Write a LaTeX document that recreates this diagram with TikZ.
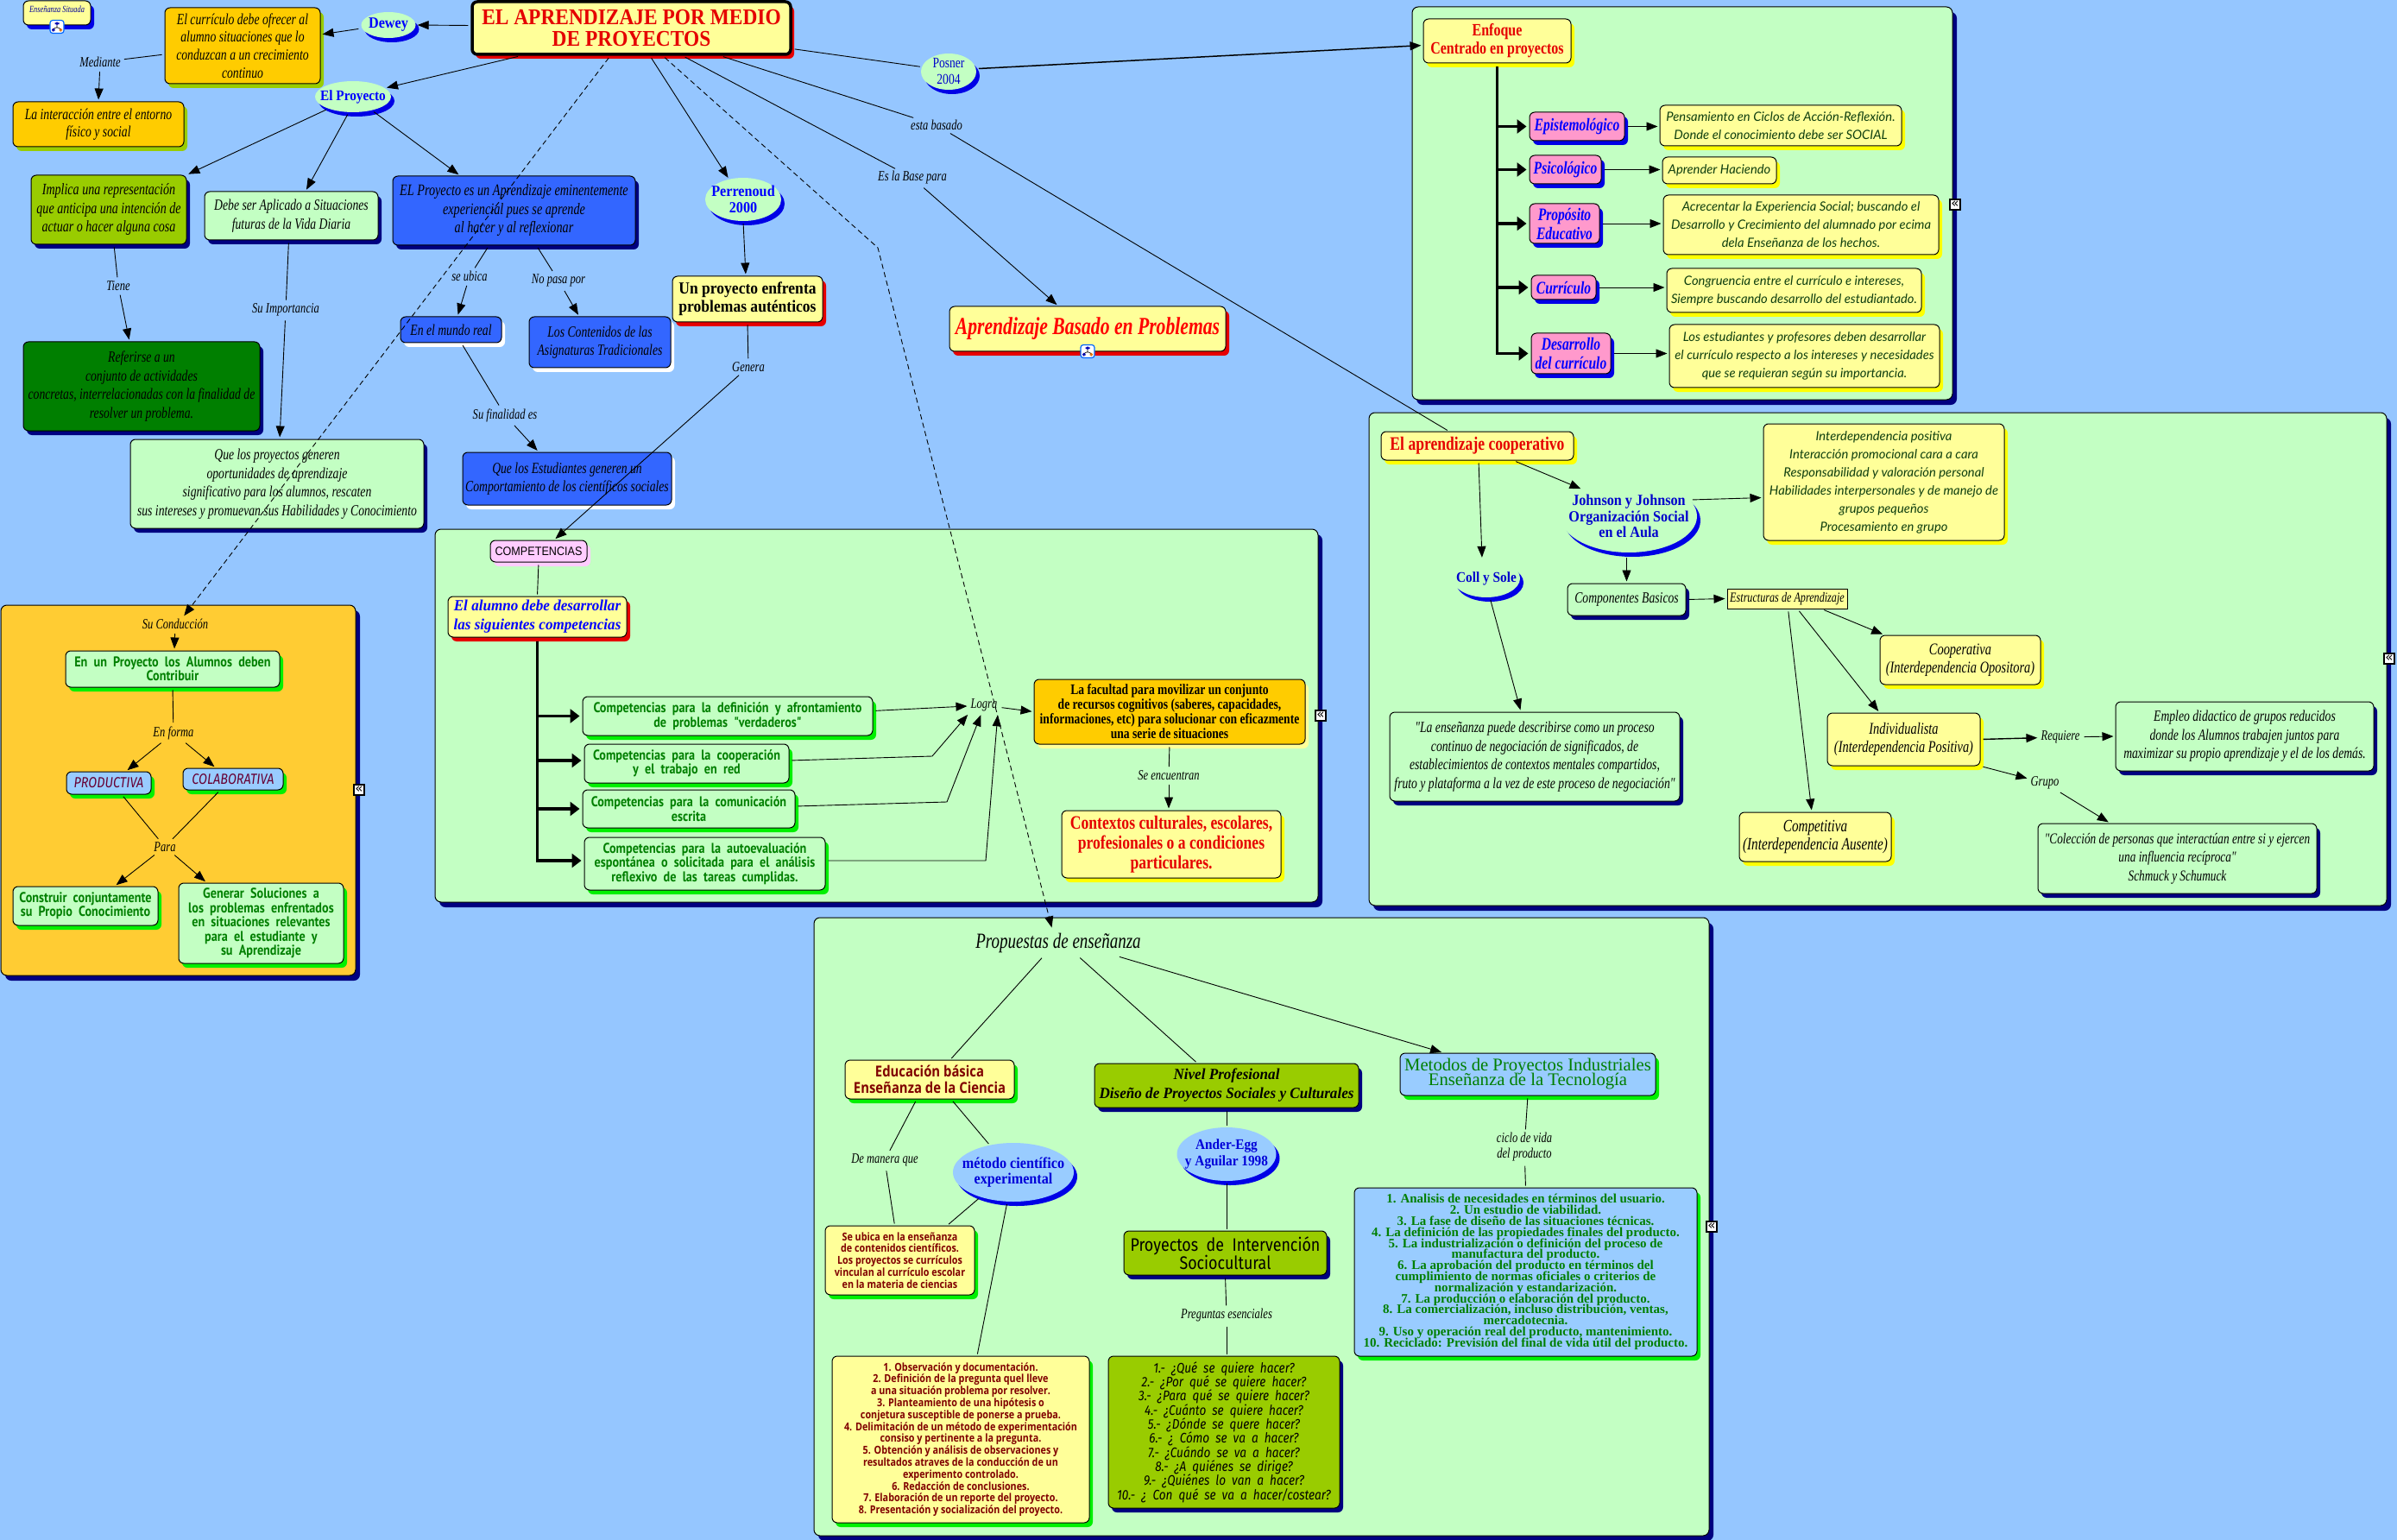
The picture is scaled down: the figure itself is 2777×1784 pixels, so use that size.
\documentclass[tikz,border=0pt]{standalone}
\usepackage{fontspec}
\usepackage{tikz}
\usetikzlibrary{arrows.meta,shapes.geometric,shadows}

\lineskiplimit=-20pt
\newfontfamily\handfont[FakeStretch=.76]{Liberation Serif}
\newfontfamily\widefont[FakeStretch=.95]{Liberation Serif}
\newfontfamily\narrowfont[FakeStretch=.8]{Liberation Serif}
\newfontfamily\ovalfont[FakeStretch=.9]{Liberation Serif}
\newfontfamily\titlefont{Liberation Serif}
\newfontfamily\greenfont[FakeStretch=.86,WordSpace=2]{PT Sans}
\newfontfamily\listfont[FakeStretch=.85,WordSpace=2]{Fira Sans}
\newfontfamily\plainfont[FakeStretch=.85]{Open Sans}
\newfontfamily\capsfont[FakeStretch=.9]{Liberation Sans}
\newfontfamily\kristenfont{Lato}
\newfontfamily\glyphfont{DejaVu Sans}

\definecolor{bgblue}{HTML}{95C6FF}
\definecolor{fillgreen}{HTML}{C3FFC3}
\definecolor{fillyellow}{HTML}{FFFF99}
\definecolor{fillorange}{HTML}{FFCC00}
\definecolor{panelorange}{HTML}{FFCC33}
\definecolor{fillblue}{HTML}{3366FF}
\definecolor{fillsky}{HTML}{99CCFF}
\definecolor{fillolive}{HTML}{99CC00}
\definecolor{filldark}{HTML}{007F00}
\definecolor{fillpink}{HTML}{FF99CC}
\definecolor{filllilac}{HTML}{FFCCFF}
\definecolor{shnavy}{HTML}{000080}
\definecolor{shblue}{HTML}{0000E6}
\definecolor{shred}{HTML}{E60000}
\definecolor{shyellow}{HTML}{FFFF00}
\definecolor{shgreen}{HTML}{00F000}
\definecolor{txgreen}{HTML}{007F00}
\definecolor{txmaroon}{HTML}{800000}
\definecolor{txplum}{HTML}{660033}
\definecolor{txdark}{HTML}{0F3F0F}

\tikzset{
  >={Triangle[length=13pt,width=10pt]},
  cbox/.style 2 args={draw=black,line width=1pt,rounded corners=6pt,align=center,inner sep=0pt,
    fill=#1,copy shadow={fill=#2,draw=none,shadow xshift=4pt,shadow yshift=-5pt}},
  panel/.style={draw=black,line width=1pt,rounded corners=7pt,fill=#1,
    copy shadow={fill=shnavy,draw=none,shadow xshift=5pt,shadow yshift=-6pt}},
  oval/.style 2 args={ellipse,inner sep=-20pt,align=center,fill=#1,
    copy shadow={fill=#2,draw=none,shadow xshift=4pt,shadow yshift=-5pt}},
  txhand/.style 2 args={font=\handfont\itshape\fontsize{#1}{#2}\selectfont},
  txhandb/.style 2 args={font=\handfont\bfseries\itshape\fontsize{#1}{#2}\selectfont},
  txwideb/.style 2 args={font=\widefont\bfseries\itshape\fontsize{#1}{#2}\selectfont},
  txkrist/.style={font=\kristenfont\itshape\fontsize{14.8}{21}\selectfont,text=txdark},
  txserif/.style 2 args={font=\narrowfont\bfseries\fontsize{#1}{#2}\selectfont},
  txoval/.style 2 args={font=\ovalfont\bfseries\fontsize{#1}{#2}\selectfont},
  txgreen/.style={font=\greenfont\bfseries\fontsize{16.5}{16.5}\selectfont,text=txgreen},
  txplain/.style 2 args={font=\plainfont\bfseries\fontsize{#1}{#2}\selectfont,text=txmaroon},
  txlist/.style 2 args={font=\listfont\fontsize{#1}{#2}\selectfont},
  lab/.style={txhand={16.5}{18},inner sep=2pt},
  link/.style={line width=.9pt,shorten <=3pt,shorten >=2pt},
  dashlink/.style={link,dashed,dash pattern=on 6pt off 4pt},
  trunk/.style={line width=3.6pt,shorten <=4pt,shorten >=3pt,>={Triangle[length=11pt,width=16pt]}},
  marker/.style={draw=black,fill=white,line width=1.2pt,inner sep=0pt,minimum size=12pt,
    font=\glyphfont\fontsize{15}{15}\selectfont},
  mapicon/.style={draw=blue!60!cyan,line width=1.2pt,fill=white,rounded corners=3pt,minimum width=16pt,minimum height=15pt,
    path picture={\draw[black,line width=.6pt] (path picture bounding box.center) ++(0,-2) -- ++(0,3) ++(-4,1.5) -- ++(0,-1.5) -- ++(8,0) -- ++(0,1.5);
      \fill[blue!70!black] (path picture bounding box.center) ++(-2.5,-5.5) rectangle ++(5,3.5);
      \fill[blue!70!black] (path picture bounding box.center) ++(-6,2) rectangle ++(3.5,3.5);
      \fill[orange!90!black] (path picture bounding box.center) ++(2.5,2) rectangle ++(3.5,3.5);}},
}

\begin{document}
\begin{tikzpicture}[x=1pt,y=-1pt]
  \useasboundingbox (0,0) rectangle (2777,1784);
  \fill[bgblue] (0,0) rectangle (2777,1784);

  % panels
  \node[panel=fillgreen,minimum width=626pt,minimum height=455pt] (panelenfoque) at (1949,235.5) {};
  \node[panel=fillgreen,minimum width=1023pt,minimum height=432pt] (panelcomp) at (1015.5,829) {};
  \node[panel=panelorange,minimum width=411pt,minimum height=429pt] (panelcond) at (206.5,915.5) {};
  \node[panel=fillgreen,minimum width=1179pt,minimum height=571pt] (panelcoop) at (2175.5,763.5) {};
  \node[panel=fillgreen,minimum width=1037pt,minimum height=716pt] (panelprop) at (1461.5,1421) {};

  % top left
  \node[cbox={fillyellow}{shblue},txhand={11}{12},text=blue!60!black,minimum width=78pt,minimum height=28pt,text depth=8pt] (situada) at (66,15) {Enseñanza Situada};
  \node[cbox={fillyellow}{shred},line width=3.5pt,font=\ovalfont\bfseries\fontsize{26}{25.5}\selectfont,text=red!90!black,minimum width=369pt,minimum height=61pt] (title) at (731.5,32.5) {EL APRENDIZAJE POR MEDIO\\DE PROYECTOS};
  \node[oval={fillgreen}{shblue},txoval={18}{21},text=blue,minimum width=63pt,minimum height=30pt] (dewey) at (450,29) {Dewey};
  \node[cbox={fillorange}{fillolive},txhand={18}{20.6},minimum width=180pt,minimum height=88pt] (curriculo) at (281,53) {El currículo debe ofrecer al\\alumno situaciones que lo\\conduzcan a un crecimiento\\continuo};
  \node[cbox={fillorange}{fillolive},txhand={18}{20.6},minimum width=198pt,minimum height=52pt] (interaccion) at (114,144) {La interacción entre el entorno\\físico y social};
  \node[oval={fillgreen}{shblue},txoval={17}{19},text=blue,minimum width=88pt,minimum height=36pt] (elproyecto) at (409,112) {El Proyecto};
  \node[cbox={fillolive}{shnavy},txhand={18.5}{21.5},minimum width=180pt,minimum height=80pt] (implica) at (126,243) {Implica una representación\\que anticipa una intención de\\actuar o hacer alguna cosa};
  \node[cbox={fillgreen}{shnavy},txhand={18}{21.5},minimum width=201pt,minimum height=56pt] (debeser) at (337.5,250) {Debe ser Aplicado a Situaciones\\futuras de la Vida Diaria};
  \node[cbox={fillblue}{shnavy},txhand={18.7}{21.5},minimum width=281pt,minimum height=80pt] (aprendexp) at (595.5,244) {EL Proyecto es un Aprendizaje eminentemente\\experiencial pues se aprende\\al hacer y al reflexionar};
  \node[cbox={fillblue}{white},txhand={18}{21.5},minimum width=117pt,minimum height=30pt] (mundo) at (522.5,382) {En el mundo real};
  \node[cbox={fillblue}{white},txhand={18}{21.5},minimum width=164pt,minimum height=59pt] (contenidos) at (695,396.5) {Los Contenidos de las\\Asignaturas Tradicionales};
  \node[cbox={filldark}{shnavy},txhand={18}{21.5},minimum width=274pt,minimum height=103pt] (referirse) at (164,447.5) {Referirse a un\\conjunto de actividades\\concretas, interrelacionadas con la finalidad de\\resolver un problema.};
  \node[cbox={fillgreen}{shnavy},txhand={18}{21.5},minimum width=340pt,minimum height=103pt] (quelos) at (321,560.5) {Que los proyectos generen\\oportunidades de aprendizaje\\significativo para los alumnos, rescaten\\sus intereses y promuevan sus Habilidades y Conocimiento};
  \node[cbox={fillblue}{white},txhand={18}{21.5},minimum width=242pt,minimum height=61pt] (estudiantes) at (657,554.5) {Que los Estudiantes generen un\\Comportamiento de los científicos sociales};
  \node[oval={fillgreen}{shblue},txoval={18}{19},text=blue,minimum width=88pt,minimum height=50pt] (perrenoud) at (861,231) {Perrenoud\\2000};
  \node[cbox={fillyellow}{shred},txoval={19.5}{20.6},minimum width=174pt,minimum height=53pt] (unproyecto) at (866,346.5) {Un proyecto enfrenta\\problemas auténticos};
  \node[cbox={fillyellow}{shred},font=\handfont\itshape\bfseries\fontsize{28.5}{30}\selectfont,text=red,minimum width=320pt,minimum height=52pt] (aprendizaje) at (1260,381) {Aprendizaje Basado en Problemas};
  \node[oval={fillgreen}{shblue},font=\narrowfont\fontsize{17}{19}\selectfont,text=blue!80!black,minimum width=64pt,minimum height=42pt] (posner) at (1099,83) {Posner\\2004};

  % enfoque panel
  \node[cbox={fillyellow}{shyellow},txserif={20}{21},text=red!90!black,minimum width=171pt,minimum height=51pt] (enfoque) at (1734.5,47.5) {Enfoque\\Centrado en proyectos};
  \node[cbox={fillpink}{shblue},txhandb={20.5}{22},text=blue,minimum width=110pt,minimum height=33pt] (epist) at (1827,146.5) {Epistemológico};
  \node[cbox={fillpink}{shblue},txhandb={20.5}{22},text=blue,minimum width=83pt,minimum height=33pt] (psico) at (1813.5,196.5) {Psicológico};
  \node[cbox={fillpink}{shblue},txhandb={20.5}{22},text=blue,minimum width=81pt,minimum height=46pt] (proposito) at (1812.5,259) {Propósito\\Educativo};
  \node[cbox={fillpink}{shblue},txhandb={20.5}{22},text=blue,minimum width=75pt,minimum height=28pt] (curric) at (1811.5,333) {Currículo};
  \node[cbox={fillpink}{shblue},txhandb={20.5}{22},text=blue,minimum width=92pt,minimum height=47pt] (desarrollo) at (1820,409.5) {Desarrollo\\del currículo};
  \node[cbox={fillyellow}{shyellow},txkrist,minimum width=280pt,minimum height=47pt] (pensamiento) at (2063,145.5) {Pensamiento en Ciclos de Acción-Reflexión.\\Donde el conocimiento debe ser SOCIAL};
  \node[cbox={fillyellow}{shyellow},txkrist,minimum width=132pt,minimum height=31pt] (haciendo) at (1992,197.5) {Aprender Haciendo};
  \node[cbox={fillyellow}{shyellow},txkrist,minimum width=319pt,minimum height=69pt] (acrecentar) at (2086.5,260.5) {Acrecentar la Experiencia Social; buscando el\\Desarrollo y Crecimiento del alumnado por ecima\\dela Enseñanza de los hechos.};
  \node[cbox={fillyellow}{shyellow},txkrist,minimum width=295pt,minimum height=51pt] (congruencia) at (2078.5,336.5) {Congruencia entre el currículo e intereses,\\Siempre buscando desarrollo del estudiantado.};
  \node[cbox={fillyellow}{shyellow},txkrist,minimum width=313pt,minimum height=73pt] (profesores) at (2090.5,412.5) {Los estudiantes y profesores deben desarrollar\\el currículo respecto a los intereses y necesidades\\que se requieran según su importancia.};

  % competencias panel
  \node[cbox={filllilac}{filllilac},font=\capsfont\fontsize{14}{16}\selectfont,minimum width=112pt,minimum height=25pt] (competencias) at (624,638.5) {COMPETENCIAS};
  \node[cbox={fillyellow}{shred},txwideb={18}{22},text=blue,minimum width=207pt,minimum height=47pt] (alumno) at (622.5,714.5) {El alumno debe desarrollar\\las siguientes competencias};
  \node[cbox={fillgreen}{shgreen},txgreen,minimum width=336pt,minimum height=45pt] (compdef) at (843,829.5) {Competencias para la definición y afrontamiento\\de problemas "verdaderos"};
  \node[cbox={fillgreen}{shgreen},txgreen,minimum width=237pt,minimum height=45pt] (compcoop) at (795.5,884.5) {Competencias para la cooperación\\y el trabajo en red};
  \node[cbox={fillgreen}{shgreen},txgreen,minimum width=246pt,minimum height=44pt] (compcom) at (798,937) {Competencias para la comunicación\\escrita};
  \node[cbox={fillgreen}{shgreen},txgreen,minimum width=279pt,minimum height=61pt] (compauto) at (816.5,1000.5) {Competencias para la autoevaluación\\espontánea o solicitada para el análisis\\reflexivo de las tareas cumplidas.};
  \node[cbox={fillorange}{fillyellow},txserif={17}{17},minimum width=314pt,minimum height=75pt] (facultad) at (1355,824.5) {La  facultad para movilizar un conjunto\\de recursos cognitivos (saberes, capacidades,\\informaciones, etc) para solucionar con eficazmente\\una serie de situaciones};
  \node[cbox={fillyellow}{shyellow},txserif={22}{23},text=red!90!black,minimum width=254pt,minimum height=78pt] (contextos) at (1357,978) {Contextos culturales, escolares,\\profesionales o a condiciones\\particulares.};

  % conduccion panel
  \node[cbox={fillgreen}{shgreen},txgreen,minimum width=248pt,minimum height=42pt] (enun) at (200,775) {En un Proyecto los Alumnos deben\\Contribuir};
  \node[cbox={fillsky}{shgreen},font=\listfont\itshape\fontsize{17}{18}\selectfont,text=txplum,minimum width=98pt,minimum height=26pt] (productiva) at (126,907) {PRODUCTIVA};
  \node[cbox={fillsky}{shgreen},font=\listfont\itshape\fontsize{17}{18}\selectfont,text=txplum,minimum width=116pt,minimum height=25pt] (colaborativa) at (270,902.5) {COLABORATIVA};
  \node[cbox={fillgreen}{shgreen},txgreen,minimum width=168pt,minimum height=45pt] (construir) at (99,1049.5) {Construir conjuntamente\\su Propio Conocimiento};
  \node[cbox={fillgreen}{shgreen},txgreen,minimum width=191pt,minimum height=93pt] (generar) at (302.5,1069.5) {Generar Soluciones a\\los problemas enfrentados\\en situaciones relevantes\\para el estudiante y\\su Aprendizaje};

  % cooperativo panel
  \node[cbox={fillyellow}{shyellow},txserif={22}{24},text=red!90!black,minimum width=223pt,minimum height=33pt] (aprendcoop) at (1711.5,516.5) {El aprendizaje cooperativo};
  \node[oval={fillgreen}{shblue},txoval={18}{18.5},text=blue!80!black,minimum width=158pt,minimum height=84pt] (johnson) at (1887,598) {Johnson y Johnson\\Organización Social\\en el Aula};
  \node[oval={fillgreen}{shblue},txoval={17}{18},text=blue!80!black,minimum width=78pt,minimum height=44pt] (collsole) at (1722,670) {Coll y Sole};
  \node[cbox={fillyellow}{shyellow},txkrist,minimum width=279pt,minimum height=135pt] (interdep) at (2182.5,558.5) {Interdependencia positiva\\Interacción promocional cara a cara\\Responsabilidad y valoración personal\\Habilidades interpersonales y de manejo de\\grupos pequeños\\Procesamiento en grupo};
  \node[cbox={fillgreen}{shnavy},txhand={18}{21},minimum width=137pt,minimum height=37pt] (componentes) at (1884.5,694.5) {Componentes Basicos};
  \node[draw=black,line width=1pt,fill=fillyellow,inner sep=0pt,txhand={16}{18},minimum width=139pt,minimum height=23pt] (estructuras) at (2070.5,693.5) {Estructuras de Aprendizaje};
  \node[cbox={fillyellow}{shyellow},txhand={19}{21.5},minimum width=186pt,minimum height=57pt] (cooperativa) at (2271,764.5) {Cooperativa\\(Interdependencia Opositora)};
  \node[cbox={fillyellow}{shyellow},txhand={19}{21.5},minimum width=177pt,minimum height=61pt] (individual) at (2205.5,856.5) {Individualista\\(Interdependencia Positiva)};
  \node[cbox={fillyellow}{shyellow},txhand={20}{21.5},minimum width=176pt,minimum height=57pt] (competitiva) at (2103,969.5) {Competitiva\\(Interdependencia Ausente)};
  \node[cbox={fillgreen}{shnavy},txhand={18}{21.5},minimum width=336pt,minimum height=103pt] (ensenanza) at (1778,876.5) {"La enseñanza puede describirse como un proceso\\continuo de negociación de significados, de\\establecimientos de contextos mentales compartidos,\\fruto y plataforma a la vez de este proceso de negociación"};
  \node[cbox={fillgreen}{shnavy},txhand={18}{21.5},minimum width=299pt,minimum height=80pt] (empleo) at (2600.5,853) {Empleo didactico de grupos reducidos\\donde los Alumnos trabajen juntos para\\maximizar su propio aprendizaje y el de los demás.};
  \node[cbox={fillgreen}{shnavy},txhand={17.5}{21.5},minimum width=323pt,minimum height=81pt] (coleccion) at (2522.5,994.5) {"Colección de personas que interactúan entre si y ejercen\\una influencia recíproca"\\Schmuck y Schumuck};

  % propuestas panel
  \node[txhand={25}{28},inner sep=4pt] (propuestas) at (1226,1092) {Propuestas de enseñanza};
  \node[cbox={fillyellow}{shgreen},txplain={17.5}{18.5},minimum width=196pt,minimum height=45pt] (educacion) at (1077,1250.5) {Educación básica\\Enseñanza de la Ciencia};
  \node[cbox={fillolive}{shnavy},txwideb={18}{22},minimum width=306pt,minimum height=51pt] (nivel) at (1421,1257.5) {Nivel Profesional\\Diseño de Proyectos Sociales y Culturales};
  \node[cbox={fillsky}{shgreen},font=\titlefont\fontsize{20.7}{17}\selectfont,text=txgreen,minimum width=296pt,minimum height=49pt] (metodos) at (1770,1244.5) {Metodos de Proyectos Industriales\\Enseñanza de la Tecnología};
  \node[oval={fillsky}{shblue},txoval={18}{18.5},text=blue!85!black,minimum width=140pt,minimum height=68pt] (cientifico) at (1174,1358) {método científico\\experimental};
  \node[oval={fillsky}{shblue},txoval={17}{18.5},text=blue!85!black,minimum width=115pt,minimum height=62pt] (anderegg) at (1421,1337) {Ander-Egg\\y Aguilar 1998};
  \node[cbox={fillyellow}{shgreen},txplain={12.7}{13.8},minimum width=173pt,minimum height=80pt] (seubicaen) at (1042.5,1460) {Se ubica en la enseñanza\\de contenidos científicos.\\Los proyectos se currículos\\vinculan al currículo escolar\\en la materia de ciencias};
  \node[cbox={fillyellow}{shgreen},txplain={12.7}{13.8},minimum width=298pt,minimum height=193pt] (observ) at (1113,1667.5) {1. Observación y documentación.\\2. Definición de la pregunta quel lleve\\a una situación problema por resolver.\\3. Planteamiento de una hipótesis o\\conjetura susceptible de ponerse a prueba.\\4. Delimitación de un método de experimentación\\consiso y pertinente a la pregunta.\\5. Obtención y análisis de observaciones y\\resultados atraves de la conducción de un\\experimento controlado.\\6. Redacción de conclusiones.\\7. Elaboración de un reporte del proyecto.\\8. Presentación y socialización del proyecto.};
  \node[cbox={fillolive}{shnavy},txlist={21}{21.5},minimum width=235pt,minimum height=51pt] (intervencion) at (1419.5,1451.5) {Proyectos de Intervención\\Sociocultural};
  \node[cbox={fillolive}{shnavy},font=\listfont\itshape\fontsize{16}{16.3}\selectfont,minimum width=268pt,minimum height=176pt] (preguntas) at (1418,1659) {1.- ¿Qué se quiere hacer?\\2.- ¿Por qué se quiere hacer?\\3.- ¿Para qué se quiere hacer?\\4.- ¿Cuánto se quiere hacer?\\5.- ¿Dónde se quere hacer?\\6.- ¿ Cómo se va a hacer?\\7.- ¿Cuándo se va a hacer?\\8.- ¿A quiénes se dirige?\\9.- ¿Quiénes lo van a hacer?\\10.- ¿ Con qué se va a hacer/costear?};
  \node[cbox={fillsky}{shgreen},font=\titlefont\bfseries\fontsize{15}{12.8}\selectfont,text=txgreen,minimum width=397pt,minimum height=195pt] (ciclolist) at (1767.5,1473.5) {1. Analisis de necesidades en términos del usuario.\\2. Un estudio de viabilidad.\\3. La fase de diseño de las situaciones técnicas.\\4. La definición de las propiedades finales del producto.\\5. La industrialización o definición del proceso de\\manufactura del producto.\\6. La aprobación del producto en términos del\\cumplimiento de normas oficiales o criterios de\\normalización y estandarización.\\7. La producción o elaboración del producto.\\8. La comercialización, incluso distribución, ventas,\\mercadotecnia.\\9. Uso y operación real del producto, mantenimiento.\\10. Reciclado: Previsión del final de vida útil del producto.};

  % link labels
  \node[lab] (mediante) at (116,72) {Mediante};
  \node[lab] (tiene) at (137,331) {Tiene};
  \node[lab] (suimportancia) at (331,359) {Su Importancia};
  \node[lab] (seubica) at (544,320) {se ubica};
  \node[lab] (nopasa) at (647,325) {No pasa por};
  \node[lab] (sufinalidad) at (585,481) {Su finalidad es};
  \node[lab] (genera) at (867,425) {Genera};
  \node[lab] (esbase) at (1057,206) {Es la Base para};
  \node[lab] (estabasado) at (1085,145) {esta basado};
  \node[lab] (logra) at (1140,817) {Logra};
  \node[lab] (seencuentran) at (1354,898) {Se encuentran};
  \node[lab] (suconduccion) at (203,723) {Su Conducción};
  \node[lab] (enforma) at (201,849) {En forma};
  \node[lab] (para) at (191,981) {Para};
  \node[lab] (requiere) at (2387,854) {Requiere};
  \node[lab] (grupo) at (2369,907) {Grupo};
  \node[lab] (demanera) at (1025,1344) {De manera que};
  \node[lab] (preglabel) at (1421,1524) {Preguntas esenciales};
  \node[lab,align=center] (ciclolabel) at (1766,1329) {ciclo de vida\\del producto};
  \coordinate (bendprop) at (1017,287);
  \coordinate (bendcoop) at (1080,876);
  \coordinate (bendcom) at (1097,929);
  \coordinate (bendauto) at (1142,997);

  % links, top left
  \draw[link,->] ([yshift=3pt]title.west) -- (dewey.east);
  \draw[link,->] ([yshift=-4pt]dewey.west) -- ([yshift=13pt]curriculo.east);
  \draw[link] ([yshift=-10pt]curriculo.west) -- (mediante);
  \draw[link,->] (mediante) -- (interaccion.north);
  \draw[link,->] ([xshift=-128.5pt]title.south) -- (elproyecto.15);
  \draw[link,->] (elproyecto.206) -- (implica.north east);
  \draw[link,->] (elproyecto.255) -- ([xshift=16.5pt]debeser.north);
  \draw[link,->] (elproyecto.-36) -- ([xshift=-62.5pt]aprendexp.north);
  \draw[link] ([xshift=6pt]implica.south) -- (tiene);
  \draw[link,->] (tiene) -- ([xshift=-14pt]referirse.north);
  \draw[link] ([xshift=-3pt]debeser.south) -- (suimportancia);
  \draw[link,->] (suimportancia) -- ([xshift=3pt]quelos.north);
  \draw[link] ([xshift=-29pt]aprendexp.south) -- (seubica);
  \draw[link,->] (seubica) -- ([xshift=7.5pt]mundo.north);
  \draw[link] ([xshift=26pt]aprendexp.south) -- (nopasa);
  \draw[link,->] (nopasa) -- ([xshift=-24pt]contenidos.north);
  \draw[link] ([xshift=12pt]mundo.south) -- (sufinalidad);
  \draw[link,->] (sufinalidad) -- ([xshift=-33pt]estudiantes.north);
  \draw[link,->] ([xshift=21.5pt]title.south) -- (perrenoud.125);
  \draw[link,->] (perrenoud.south) -- ([xshift=-2pt]unproyecto.north);
  \draw[link] (unproyecto.south) -- (genera);
  \draw[link,->] (genera) -- ([xshift=18pt]competencias.north);
  \draw[dashlink,->] ([xshift=-24.5pt]title.south) -- ([xshift=9pt]suconduccion.north);
  \draw[dashlink,->] ([xshift=36.5pt]title.south) -- (bendprop) -- ([xshift=-7pt]propuestas.north);
  \draw[link] ([xshift=59.5pt]title.south) -- (esbase);
  \draw[link,->] (esbase) -- ([xshift=-34pt]aprendizaje.north);
  \draw[link] ([xshift=103.5pt]title.south) -- (estabasado);
  \draw[link] (estabasado) -- ([xshift=-33pt]aprendcoop.north);
  \draw[link] ([yshift=-24pt]title.east) -- (posner.170);
  \draw[link,line width=1.5pt,->] (posner.6) -- ([yshift=-5pt]enfoque.west);

  % links, enfoque
  \draw[trunk,->] (enfoque.south) |- (epist.west);
  \draw[trunk,->] (enfoque.south) |- (psico.west);
  \draw[trunk,->] (enfoque.south) |- (proposito.west);
  \draw[trunk,->] (enfoque.south) |- (curric.west);
  \draw[trunk,->] (enfoque.south) |- (desarrollo.west);
  \draw[link,->] (epist.east) -- (epist.east -| pensamiento.west);
  \draw[link,->] (psico.east) -- (psico.east -| haciendo.west);
  \draw[link,->] (proposito.east) -- (proposito.east -| acrecentar.west);
  \draw[link,->] (curric.east) -- (curric.east -| congruencia.west);
  \draw[link,->] (desarrollo.east) -- (desarrollo.east -| profesores.west);

  % links, competencias
  \draw[link] (competencias.south) -- (alumno.north);
  \draw[trunk,->] (alumno.south) |- (compdef.west);
  \draw[trunk,->] (alumno.south) |- ([yshift=3.5pt]compcoop.west);
  \draw[trunk,->] (alumno.south) |- (compcom.west);
  \draw[trunk,->] (alumno.south) |- ([yshift=3.5pt]compauto.west);
  \draw[link,->] ([yshift=6pt]compdef.east) -- (logra);
  \draw[link,->] ([yshift=3.5pt]compcoop.east) -- (bendcoop) -- (logra.south west);
  \draw[link,->] ([yshift=3pt]compcom.east) -- (bendcom) -- ([xshift=-3pt]logra.south);
  \draw[link,->] ([yshift=3.5pt]compauto.east) -- (bendauto) -- ([xshift=16pt]logra.south);
  \draw[link,->] (logra) -- (facultad.west);
  \draw[link] (facultad.south) -- (seencuentran);
  \draw[link,->] (seencuentran) -- ([xshift=-3pt]contextos.north);

  % links, conduccion
  \draw[link,->] (suconduccion) -- ([xshift=2pt]enun.north);
  \draw[link] (enun.south) -- (enforma);
  \draw[link,->] (enforma) -- ([xshift=20pt]productiva.north);
  \draw[link,->] (enforma) -- ([xshift=-20pt]colaborativa.north);
  \draw[link] ([xshift=15pt]productiva.south) -- (para);
  \draw[link] ([xshift=-15pt]colaborativa.south) -- (para);
  \draw[link,->] (para) -- ([xshift=34pt]construir.north);
  \draw[link,->] (para) -- ([xshift=-63pt]generar.north);

  % links, cooperativo
  \draw[link,->] ([xshift=1.5pt]aprendcoop.south) -- ([xshift=-5pt]collsole.north);
  \draw[link,->] ([xshift=42pt]aprendcoop.south) -- (johnson.150);
  \draw[link,->] (johnson.15) -- ([yshift=-18pt]interdep.west);
  \draw[link,shorten <=6pt,->] (johnson.south -| componentes.north) -- (componentes.north);
  \draw[link,->] (componentes.east) -- (estructuras.west);
  \draw[link,->] ([xshift=40pt]estructuras.south) -- ([xshift=-88pt]cooperativa.north);
  \draw[link,->] ([xshift=12pt]estructuras.south) -- ([xshift=-28pt]individual.north);
  \draw[link,->] ([xshift=1pt]estructuras.south) -- ([xshift=-4pt]competitiva.north);
  \draw[link,line width=1.4pt,->] (individual.east) -- (requiere);
  \draw[link,->] (requiere) -- (empleo.west);
  \draw[link,->] (individual.south east) -- (grupo);
  \draw[link,->] (grupo) -- ([xshift=-78pt]coleccion.north);
  \draw[link,->] ([xshift=4pt]collsole.south) -- ([xshift=-16pt]ensenanza.north);

  % links, propuestas
  \draw[link] ([xshift=-17pt]propuestas.south) -- ([xshift=24pt]educacion.north);
  \draw[link] ([xshift=23pt]propuestas.south) -- ([xshift=-34pt]nivel.north);
  \draw[link,->] ([xshift=68pt]propuestas.south) -- ([xshift=-98pt]metodos.north);
  \draw[link] ([xshift=-15pt]educacion.south) -- (demanera);
  \draw[link] (demanera) -- ([xshift=-6pt]seubicaen.north);
  \draw[link] ([xshift=25pt]educacion.south) -- (cientifico.131);
  \draw[link] (cientifico.217) -- ([xshift=55pt]seubicaen.north);
  \draw[link] ([xshift=-7pt]cientifico.south) -- ([xshift=19pt]observ.north);
  \draw[link] (nivel.south) -- (anderegg.north);
  \draw[link] (anderegg.south) -- (anderegg.south |- intervencion.north);
  \draw[link] (intervencion.south) -- (preglabel);
  \draw[link] (preglabel) -- ([xshift=3pt]preguntas.north);
  \draw[link] (metodos.south) -- (ciclolabel);
  \draw[link] (ciclolabel) -- (ciclolist.north);

  % markers and icons
  \node[marker] (markenfoque) at (2265,237) {«};
  \node[marker] (markcomp) at (1530,829) {«};
  \node[marker] (markcond) at (416,915) {«};
  \node[marker] (markcoop) at (2768,763) {«};
  \node[marker] (markprop) at (1983,1421) {«};
  \node[mapicon] (iconsituada) at (66,31) {};
  \node[mapicon] (iconaprend) at (1260,407) {};
\end{tikzpicture}
\end{document}
